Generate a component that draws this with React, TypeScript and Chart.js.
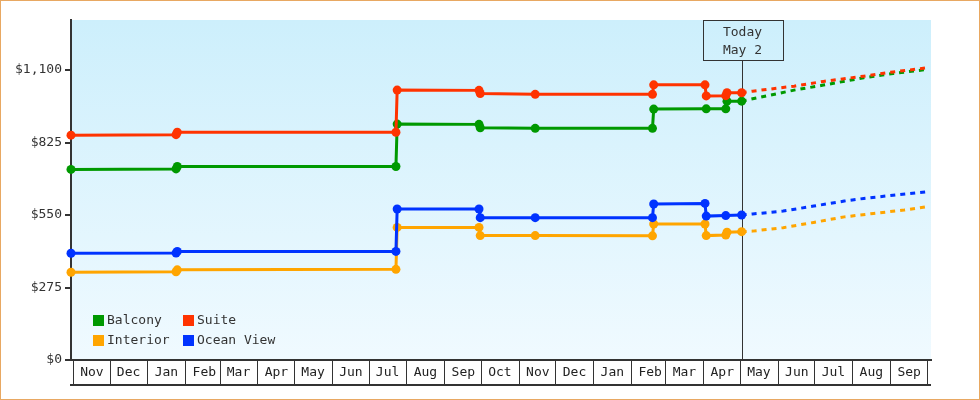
import { useEffect, useRef } from 'react';
import { Chart, registerables } from 'chart.js';

Chart.register(...registerables);

// ---- data ----
const MONTHS = ['Nov', 'Dec', 'Jan', 'Feb', 'Mar', 'Apr', 'May', 'Jun', 'Jul', 'Aug', 'Sep', 'Oct', 'Nov', 'Dec', 'Jan', 'Feb', 'Mar', 'Apr', 'May', 'Jun', 'Jul', 'Aug', 'Sep'];
const MONTH_DAYS = [30, 31, 31, 28, 31, 30, 31, 30, 31, 31, 30, 31, 30, 31, 31, 28, 31, 30, 31, 30, 31, 31, 30];
const Y_TICKS = [0, 275, 550, 825, 1100];
const X_MIN = -2;
const X_MAX = 702;
const Y_MAX = 1290;
const TODAY_DAY = 547;
const TODAY_LABEL = ['Today', 'May 2'];

const SERIES_NAMES = ['Balcony', 'Suite', 'Interior', 'Ocean View'];
const SERIES_COLORS = ['#009900', '#ff3300', '#ffa500', '#0033ff'];

// days since Nov 1 of the first year
const balconyDays = [-2, 84, 85, 264, 265, 332, 333, 378, 474, 475, 518, 534, 535, 547];
const balconyPrices = [723, 725, 734, 734, 895, 894, 881, 879, 879, 952, 953, 953, 982, 982];

const suiteDays = [-2, 84, 85, 264, 265, 332, 333, 378, 474, 475, 517, 518, 534, 535, 547];
const suitePrices = [853, 855, 864, 864, 1024, 1023, 1011, 1008, 1008, 1044, 1044, 1002, 1003, 1014, 1014];

const interiorDays = [-2, 84, 85, 264, 265, 332, 333, 378, 474, 475, 517, 518, 534, 535, 547];
const interiorPrices = [333, 335, 342, 344, 503, 503, 472, 472, 471, 516, 516, 472, 474, 485, 487];

const oceanDays = [-2, 84, 85, 264, 265, 332, 333, 378, 474, 475, 517, 518, 534, 547];
const oceanPrices = [405, 406, 412, 412, 573, 573, 540, 540, 540, 592, 594, 546, 548, 550];

// forecasts
const balconyFcDays = [547, 556, 590, 614, 647, 671, 698];
const balconyFcPrices = [982, 991, 1024, 1043, 1071, 1087, 1102];

const suiteFcDays = [547, 556, 590, 614, 647, 671, 698];
const suiteFcPrices = [1014, 1020, 1039, 1057, 1077, 1093, 1108];

const interiorFcDays = [547, 556, 581, 606, 631, 655, 680, 698];
const interiorFcPrices = [487, 489, 502, 522, 543, 556, 569, 581];

const oceanFcDays = [547, 556, 581, 606, 631, 647, 671, 698];
const oceanFcPrices = [550, 554, 565, 584, 603, 613, 625, 638];

const FONT = 'DejaVu Sans Mono';
const INK = '#333333';

function pts(days: number[], vals: number[]) {
  return days.map((d, i) => ({ x: d, y: vals[i] }));
}

function monthStarts(): number[] {
  const out: number[] = [0];
  let acc = 0;
  for (const n of MONTH_DAYS) {
    acc += n;
    out.push(acc);
  }
  return out;
}

const chartDecor = {
  id: 'chartDecor',
  beforeDraw(chart: any) {
    const { ctx, chartArea } = chart;
    const g = ctx.createLinearGradient(0, chartArea.top, 0, chartArea.bottom);
    g.addColorStop(0, '#cdeffc');
    g.addColorStop(1, '#f0faff');
    ctx.save();
    ctx.fillStyle = g;
    ctx.fillRect(chartArea.left, chartArea.top, chartArea.right - chartArea.left, chartArea.bottom - chartArea.top);
    ctx.restore();
  },
  beforeDatasetsDraw(chart: any) {
    const { ctx, chartArea } = chart;
    const x = Math.round(chart.scales.x.getPixelForValue(TODAY_DAY)) + 0.5;
    const boxW = 80;
    const boxH = 40;
    const top = chartArea.top + 0.5;
    ctx.save();
    ctx.strokeStyle = INK;
    ctx.lineWidth = 1;
    ctx.strokeRect(Math.round(x - boxW / 2) + 0.5, top, boxW, boxH);
    ctx.beginPath();
    ctx.moveTo(x, top + boxH);
    ctx.lineTo(x, chartArea.bottom);
    ctx.stroke();
    ctx.fillStyle = INK;
    ctx.font = `13px "${FONT}"`;
    ctx.textAlign = 'center';
    ctx.textBaseline = 'middle';
    ctx.fillText(TODAY_LABEL[0], x, top + 12);
    ctx.fillText(TODAY_LABEL[1], x, top + 30);
    ctx.restore();
  },
  afterDraw(chart: any) {
    const { ctx, chartArea } = chart;
    const xs = chart.scales.x;
    // bottom line of month boxes
    ctx.save();
    ctx.strokeStyle = INK;
    ctx.lineWidth = 2;
    ctx.beginPath();
    const yb = xs.top + 25;
    ctx.moveTo(chartArea.left - 1, yb);
    ctx.lineTo(chartArea.right, yb);
    ctx.stroke();

    // legend (inside chart area, bottom-left)
    ctx.font = `13px "${FONT}"`;
    ctx.textBaseline = 'middle';
    ctx.textAlign = 'left';
    const ds = chart.data.datasets.slice(0, 4);
    ds.forEach((d: any, i: number) => {
      const col = i % 2;
      const row = Math.floor(i / 2);
      const bx = chartArea.left + 22 + col * 90;
      const by = chartArea.bottom - 45 + row * 20;
      ctx.fillStyle = d.borderColor;
      ctx.fillRect(bx, by, 11, 11);
      ctx.fillStyle = INK;
      ctx.fillText(d.label, bx + 14, by + 6);
    });
    ctx.restore();
  },
};

export default function App() {
  const ref = useRef<HTMLCanvasElement | null>(null);

  useEffect(() => {
    if (!ref.current) return;
    const mainSeries = [
      pts(balconyDays, balconyPrices),
      pts(suiteDays, suitePrices),
      pts(interiorDays, interiorPrices),
      pts(oceanDays, oceanPrices),
    ];
    const fcSeries = [
      pts(balconyFcDays, balconyFcPrices),
      pts(suiteFcDays, suiteFcPrices),
      pts(interiorFcDays, interiorFcPrices),
      pts(oceanFcDays, oceanFcPrices),
    ];
    const drawOrder = [4, 2, 3, 1];
    const datasets: any[] = mainSeries.map((data, i) => ({
      label: SERIES_NAMES[i],
      data,
      borderColor: SERIES_COLORS[i],
      backgroundColor: SERIES_COLORS[i],
      pointBackgroundColor: SERIES_COLORS[i],
      pointBorderWidth: 0,
      pointRadius: 4.5,
      borderWidth: 3,
      tension: 0,
      clip: false,
      order: drawOrder[i],
    }));
    fcSeries.forEach((data, i) => {
      datasets.push({
        label: SERIES_NAMES[i] + ' forecast',
        data,
        borderColor: SERIES_COLORS[i],
        backgroundColor: SERIES_COLORS[i],
        borderDash: [5, 5],
        borderWidth: 3,
        pointRadius: 0,
        tension: 0,
        clip: false,
        order: 5 + drawOrder[i],
      });
    });

    Chart.defaults.font.family = FONT;
    Chart.defaults.font.size = 13;
    Chart.defaults.color = INK;

    const starts = monthStarts();
    const chart = new Chart(ref.current, {
      type: 'line',
      data: { datasets },
      plugins: [chartDecor],
      options: {
        animation: false,
        responsive: true,
        maintainAspectRatio: false,
        layout: { padding: { top: 20, right: 49, left: 0, bottom: 0 } },
        plugins: { legend: { display: false }, tooltip: { enabled: false } },
        scales: {
          x: {
            type: 'linear',
            min: X_MIN,
            max: X_MAX,
            afterBuildTicks(scale: any) {
              scale.ticks = starts.map((v) => ({ value: v }));
            },
            afterFit(scale: any) {
              scale.height = 40;
            },
            grid: {
              drawOnChartArea: false,
              drawTicks: true,
              tickLength: 25,
              color: INK,
              lineWidth: 1,
            },
            border: { display: true, color: INK, width: 2 },
            ticks: {
              autoSkip: false,
              maxRotation: 0,
              minRotation: 0,
              labelOffset: 18.5,
              padding: -20,
              color: '#222',
              font: { family: FONT, size: 13 },
              callback: (_v: any, i: number) => MONTHS[i] ?? '',
            },
          },
          y: {
            type: 'linear',
            min: 0,
            max: Y_MAX,
            afterBuildTicks(scale: any) {
              scale.ticks = Y_TICKS.map((v) => ({ value: v }));
            },
            afterFit(scale: any) {
              scale.width = 71;
            },
            grid: {
              drawOnChartArea: false,
              drawTicks: true,
              tickLength: 6,
              color: INK,
              lineWidth: 2,
            },
            border: { display: true, color: INK, width: 2 },
            ticks: {
              padding: 3,
              color: INK,
              font: { family: FONT, size: 13 },
              callback: (v: any) => '$' + Number(v).toLocaleString('en-US'),
            },
          },
        },
      },
    });
    return () => chart.destroy();
  }, []);

  return (
    <div style={{ position: 'fixed', left: 0, top: 0, width: 980, height: 400, background: '#fff' }}>
      <canvas ref={ref} />
      <div
        style={{
          position: 'absolute',
          inset: 0,
          border: '1px solid #e8a862',
          pointerEvents: 'none',
          boxSizing: 'border-box',
        }}
      />
    </div>
  );
}
